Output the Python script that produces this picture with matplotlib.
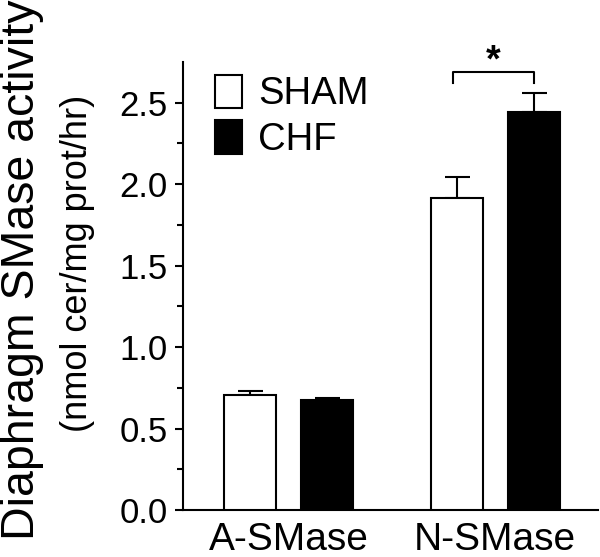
import matplotlib
matplotlib.use("Agg")
import matplotlib.pyplot as plt
import numpy as np

plt.rcParams['font.family'] = ['Liberation Sans', 'DejaVu Sans']

# values
categories = ["A-SMase", "N-SMase"]
groups = ["SHAM", "CHF"]
sham_mean = [0.706, 1.916]
sham_err = [0.027, 0.131]
chf_mean = [0.678, 2.44]
chf_err = [0.007, 0.12]

fig = plt.figure(figsize=(6, 5.57), dpi=100)
ax = fig.add_axes([0.305, 0.0844, 0.692, 0.8043])

x = np.arange(len(categories))
w = 0.252
off = 0.186
ax.bar(x - off, sham_mean, w, color='white', edgecolor='black', linewidth=1.5,
       label=groups[0], zorder=3)
ax.bar(x + off, chf_mean, w, color='black', edgecolor='black', linewidth=1.5,
       label=groups[1], zorder=3)
# upper error bars only
ax.errorbar(x - off, sham_mean, yerr=[np.zeros(2), sham_err], fmt='none',
            ecolor='black', elinewidth=1.5, capsize=9, capthick=1.5, zorder=2)
ax.errorbar(x + off, chf_mean, yerr=[np.zeros(2), chf_err], fmt='none',
            ecolor='black', elinewidth=1.5, capsize=9, capthick=1.5, zorder=2)

# significance bracket over N-SMase
bx0, bx1 = 0.796, 1.189
ax.plot([bx0, bx0, bx1, bx1], [2.62, 2.686, 2.686, 2.62], color='black', lw=1.5,
        clip_on=False)
ax.text((bx0 + bx1) / 2, 2.64, "*", ha='center', va='bottom', fontsize=27,
        fontweight='bold', clip_on=False)

ax.set_xlim(-0.511, 1.499)
ax.set_ylim(0, 2.75)
ax.set_yticks([0, 0.5, 1.0, 1.5, 2.0, 2.5])
ax.set_yticklabels(["0.0", "0.5", "1.0", "1.5", "2.0", "2.5"])
ax.set_yticks(np.arange(0.25, 2.75, 0.5), minor=True)
ax.set_xticks(x)
ax.set_xticklabels(categories, fontsize=28)
ax.tick_params(axis='x', length=0, pad=9)
ax.tick_params(axis='y', which='major', direction='out', length=6, width=1.5,
               labelsize=25, pad=5)
ax.tick_params(axis='y', which='minor', direction='out', length=4, width=1.5)
for s in ['top', 'right']:
    ax.spines[s].set_visible(False)
for s in ['left', 'bottom']:
    ax.spines[s].set_linewidth(1.5)

ax.legend(loc='upper left', bbox_to_anchor=(0.077, 0.972), frameon=False,
          fontsize=27.5, handlelength=0.72, handleheight=0.98, handletextpad=0.4,
          labelspacing=0.2, borderaxespad=0, borderpad=0)

fig.text(0.037, 1 - 270 / 557, "Diaphragm SMase activity", rotation=90,
         ha='center', va='center', fontsize=33.5)
fig.text(0.13, 1 - 263 / 557, "(nmol cer/mg prot/hr)", rotation=90,
         ha='center', va='center', fontsize=26)

fig.savefig("out.png", dpi=100)
